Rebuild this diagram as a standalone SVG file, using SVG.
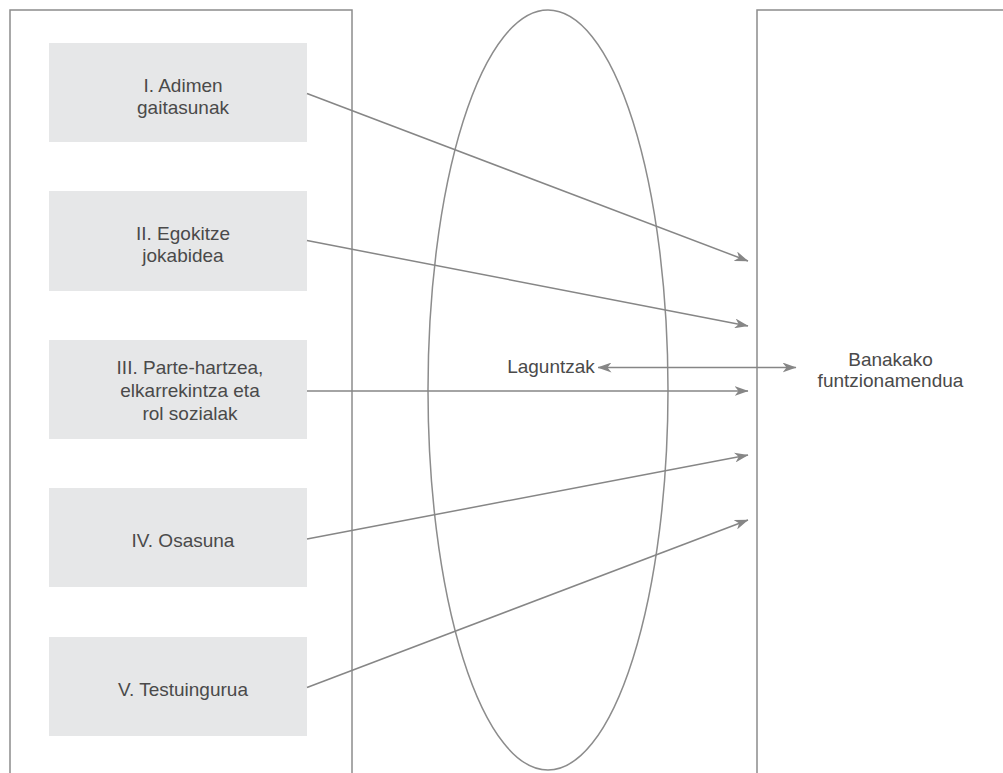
<svg xmlns="http://www.w3.org/2000/svg" width="1003" height="773" viewBox="0 0 1003 773">
<defs>
<style>
.frame{fill:none;stroke:#8c8c8c;stroke-width:1.5}
.box{fill:#e6e7e8}
.t{font-family:"Liberation Sans",Arial,sans-serif;font-size:19px;fill:#4a4a4a;text-anchor:middle}
.c{fill:none;stroke:#868686;stroke-width:1.5}
</style>
<marker id="ah" viewBox="0 0 14 10" refX="13.5" refY="5" markerWidth="14" markerHeight="10" markerUnits="userSpaceOnUse" orient="auto-start-reverse">
<path d="M0,0 L14,5 L0,10 L4,5 Z" fill="#868686"/>
</marker>
</defs>
<rect class="frame" x="10" y="10" width="342" height="800"/>
<rect class="frame" x="757" y="10" width="300" height="800"/>
<ellipse class="frame" cx="548" cy="390" rx="120" ry="380"/>
<g id="n1"><rect class="box" x="49" y="43" width="258" height="99"/><text class="t" x="183" y="92">I. Adimen</text><text class="t" x="183" y="114">gaitasunak</text></g>
<g id="n2"><rect class="box" x="49" y="191" width="258" height="100"/><text class="t" x="183" y="240">II. Egokitze</text><text class="t" x="183" y="262">jokabidea</text></g>
<g id="n3"><rect class="box" x="49" y="340" width="258" height="99"/><text class="t" x="190" y="374">III. Parte-hartzea,</text><text class="t" x="190" y="397">elkarrekintza eta</text><text class="t" x="190" y="420">rol sozialak</text></g>
<g id="n4"><rect class="box" x="49" y="488" width="258" height="99"/><text class="t" x="183" y="547">IV. Osasuna</text></g>
<g id="n5"><rect class="box" x="49" y="637" width="258" height="99"/><text class="t" x="183" y="696">V. Testuingurua</text></g>
<g id="laguntzak"><text class="t" x="551" y="373">Laguntzak</text></g>
<g id="banakako"><text class="t" x="890.5" y="366">Banakako</text><text class="t" x="890.5" y="387">funtzionamendua</text></g>
<g id="connectors">
<line class="c" x1="307" y1="93.5" x2="748" y2="261" marker-end="url(#ah)"/>
<line class="c" x1="307" y1="240.5" x2="748" y2="326" marker-end="url(#ah)"/>
<line class="c" x1="307" y1="391" x2="748" y2="391" marker-end="url(#ah)"/>
<line class="c" x1="307" y1="539" x2="748" y2="455" marker-end="url(#ah)"/>
<line class="c" x1="307" y1="687.5" x2="748" y2="520" marker-end="url(#ah)"/>
<line class="c" x1="598" y1="367.5" x2="796" y2="367.5" marker-start="url(#ah)" marker-end="url(#ah)"/>
</g>
</svg>
